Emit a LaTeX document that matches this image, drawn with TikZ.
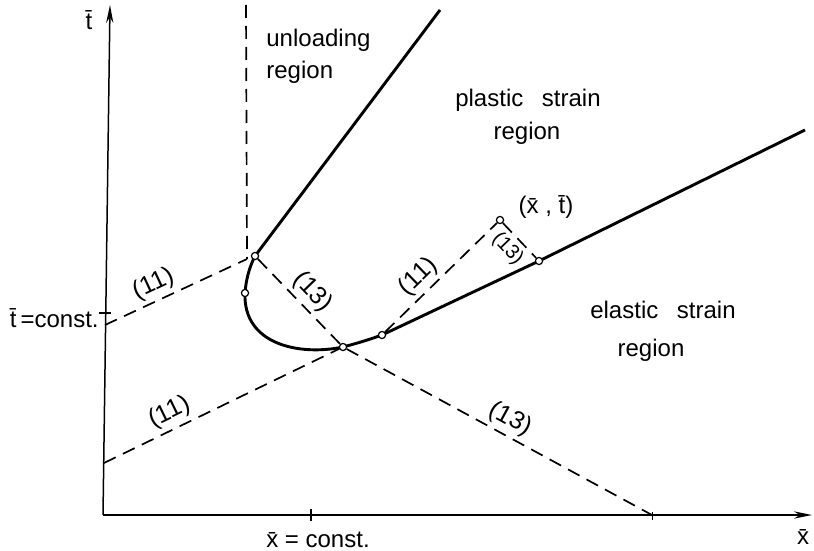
\documentclass[tikz,border=0pt]{standalone}
\usepackage{fontspec}
\setmainfont{Liberation Sans}
\usetikzlibrary{arrows.meta}

\begin{document}
\begin{tikzpicture}[x=0.5pt, y=-0.5pt, >={Stealth[length=9pt,width=3.6pt]},
		font=\fontsize{12}{16}\selectfont,
		chline/.style={dash pattern=on 6.5pt off 4pt, line width=0.85pt},
		bound/.style={line width=1.45pt, line join=round},
		pnt/.style={circle, draw, fill=white, inner sep=0pt, minimum size=3.6pt, line width=0.6pt},
		lbl/.style={sloped, inner sep=2pt, font=\fontsize{12.5}{15}\selectfont}]
		\useasboundingbox (0,0) rectangle (814,551);
		% axes
		\coordinate (O) at (103,515);
		\coordinate (Xtip) at (812,515);
		\coordinate (Ttip) at (110,5);
		\draw[line width=0.75pt, ->] (O) -- (Xtip);
		\draw[line width=0.75pt, ->] (O) -- (Ttip);
		\node (tlab) at (89,20) {\=t};
		\node (xlab) at (803,537) {\=x};
		\draw[line width=0.6pt] (311,509) -- (311,521);
		\draw[line width=0.5pt] (652,512) -- (652,520);
		\draw[line width=0.6pt] (99,313) -- (111,313);
		\node (xc) at (318,540) {\=x = const.};
		\node[left, inner sep=1pt] (tc) at (101,318) {\=t\,=const.};
		% boundary curve
		\coordinate (a) at (255,256);
		\coordinate (b) at (245,293);
		\coordinate (c) at (343,347);
		\coordinate (d) at (382,335);
		\coordinate (e) at (539,261);
		\coordinate (top) at (440,10);
		\coordinate (far) at (805,130);
		\draw[bound] (top) -- (a) .. controls (249,268) and (246,280) .. (b)
			.. controls (243,345) and (300,356) .. (c)
			.. controls (358,343) and (368,340) .. (d) -- (e) -- (far);
		\node[pnt] (A) at (a) {};
		\node[pnt] (B) at (b) {};
		\node[pnt] (C) at (c) {};
		\node[pnt] (D) at (d) {};
		\node[pnt] (E) at (e) {};
		\node[pnt] (P) at (500,220) {};
		% characteristics
		\coordinate (V) at (246,5);
		\coordinate (K) at (247,259);
		\coordinate (T1) at (105,325);
		\coordinate (T2) at (104,463);
		\coordinate (X13) at (652,515);
		\draw[chline] (V) -- (K);
		\draw[chline] (T1) -- (K) node[lbl, above, pos=0.39] {(11)};
		\draw[chline] (T2) -- (C) node[lbl, above, pos=0.31] {(11)};
		\draw[chline] (A) -- (C) node[lbl, above, pos=0.52] {(13)};
		\draw[chline] (C) -- (X13) node[lbl, above, pos=0.51] {(13)};
		\draw[chline] (D) -- (P) node[lbl, above, pos=0.4] {(11)};
		\draw[chline] (P) -- (E) node[lbl, below, pos=0.45, font=\fontsize{10}{12}\selectfont] {(13)};
		% regions
		\node[right, inner sep=0pt] (un1) at (266,40) {unloading};
		\node[right, inner sep=0pt] (un2) at (266,72) {region};
		\node (pl1) at (528,100) {plastic\hspace{0.5em} strain};
		\node (pl2) at (527,133) {region};
		\node (el1) at (663,310) {elastic\hspace{0.5em} strain};
		\node (el2) at (651,350) {region};
		\node (Plab) at (546,207) {(\=x , \=t)};
	\end{tikzpicture}
\end{document}
